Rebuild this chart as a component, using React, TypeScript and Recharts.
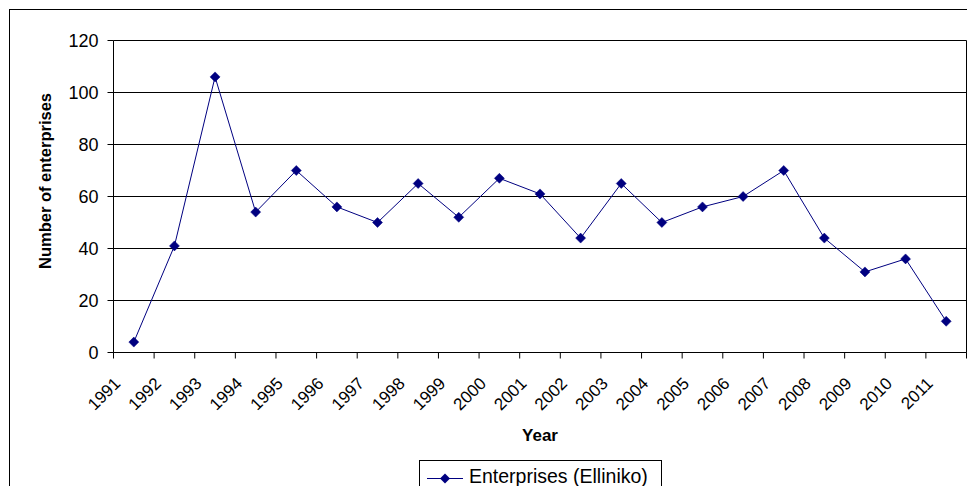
import {
  LineChart, Line, XAxis, YAxis, CartesianGrid, Legend, ReferenceLine,
} from 'recharts';

const years = [
  1991, 1992, 1993, 1994, 1995, 1996, 1997, 1998, 1999, 2000, 2001,
  2002, 2003, 2004, 2005, 2006, 2007, 2008, 2009, 2010, 2011,
];
const enterprises = [
  4, 41, 106, 54, 70, 56, 50, 65, 52, 67, 61,
  44, 65, 50, 56, 60, 70, 44, 31, 36, 12,
];
const yTicks = [0, 20, 40, 60, 80, 100, 120];
// year boundaries: labels sit on the boundaries, points in the middle of each year
const xTicks = [...years, 2012];

const seriesName = 'Enterprises (Elliniko)';
const NAVY = '#000080';
const FONT = 'Arial, "Liberation Sans", sans-serif';

const chartData = years.map((year, i) => ({
  x: year + 0.5,
  year,
  value: enterprises[i],
}));

function Diamond(props: any) {
  const { cx, cy } = props;
  if (cx == null || cy == null) return null;
  const r = 5;
  return (
    <polygon
      points={`${cx},${cy - r} ${cx + r},${cy} ${cx},${cy + r} ${cx - r},${cy}`}
      fill={NAVY}
      stroke={NAVY}
      strokeWidth={0.5}
    />
  );
}

function YearTick(props: any) {
  const { x, y, payload } = props;
  const label = years.includes(payload.value) ? String(payload.value) : '';
  return (
    <text
      transform={`translate(${x + 8},${y + 24}) rotate(-45)`}
      textAnchor="end"
      fontFamily={FONT}
      fontSize={17}
      fill="#000"
    >
      {label}
    </text>
  );
}

function YLabel(props: any) {
  const { viewBox } = props;
  const cx = viewBox.x + 45;
  const cy = 181;
  return (
    <text
      x={cx}
      y={cy}
      transform={`rotate(-90 ${cx} ${cy})`}
      textAnchor="middle"
      dominantBaseline="central"
      fontFamily={FONT}
      fontSize={16.5}
      fontWeight="bold"
      fill="#000"
    >
      Number of enterprises
    </text>
  );
}

function LegendBox({ payload }: any) {
  const item = payload && payload[0];
  return (
    <div
      style={{
        border: '1px solid #000',
        background: '#fff',
        height: 40,
        position: 'relative',
        fontFamily: FONT,
        fontSize: 19.5,
        color: '#000',
      }}
    >
      <svg width={44} height={30} style={{ position: 'absolute', left: 6, top: 2 }}>
        <line x1={1} y1={15.5} x2={37} y2={15.5} stroke={NAVY} strokeWidth={1} />
        <polygon points="19,10.5 24,15.5 19,20.5 14,15.5" fill={NAVY} />
      </svg>
      <span style={{ position: 'absolute', left: 49, top: 3, whiteSpace: 'nowrap', lineHeight: '24px' }}>
        {item ? item.value : seriesName}
      </span>
    </div>
  );
}

export default function App() {
  return (
    <div style={{ position: 'fixed', left: 0, top: 0, width: 967, height: 486, overflow: 'hidden', background: '#fff' }}>
      <div
        style={{
          position: 'absolute', left: 9, top: 9, width: 2000, height: 2000,
          border: '1px solid #000',
        }}
      />
      <div style={{ position: 'absolute', left: 0, top: 0 }}>
        <LineChart
          width={967}
          height={486}
          data={chartData}
          margin={{ top: 40.5, right: 0.5, bottom: 0, left: 0 }}
        >
          <CartesianGrid vertical={false} stroke="#000" strokeWidth={1} />
          <XAxis
            type="number"
            dataKey="x"
            domain={[1991, 2012]}
            ticks={xTicks}
            interval={0}
            height={133.5}
            tickSize={6}
            tickMargin={2}
            stroke="#000"
            tick={<YearTick />}
            label={{
              value: 'Year',
              position: 'insideBottom',
              offset: 45,
              fontFamily: FONT,
              fontSize: 17,
              fontWeight: 'bold',
              fill: '#000',
            }}
          />
          <YAxis
            domain={[0, 120]}
            ticks={yTicks}
            width={113.5}
            tickSize={6}
            tickMargin={9}
            stroke="#000"
            tick={{ fill: '#000', fontFamily: FONT, fontSize: 18 }}
            label={<YLabel />}
          />
          <ReferenceLine x={2012} stroke="#000" />
          <Legend
            layout="vertical"
            align="center"
            verticalAlign="middle"
            wrapperStyle={{ left: 419, top: 460, width: 243 }}
            content={<LegendBox />}
          />
          <Line
            type="linear"
            dataKey="value"
            name={seriesName}
            stroke={NAVY}
            strokeWidth={1}
            dot={<Diamond />}
            activeDot={false}
            isAnimationActive={false}
          />
        </LineChart>
      </div>
    </div>
  );
}
